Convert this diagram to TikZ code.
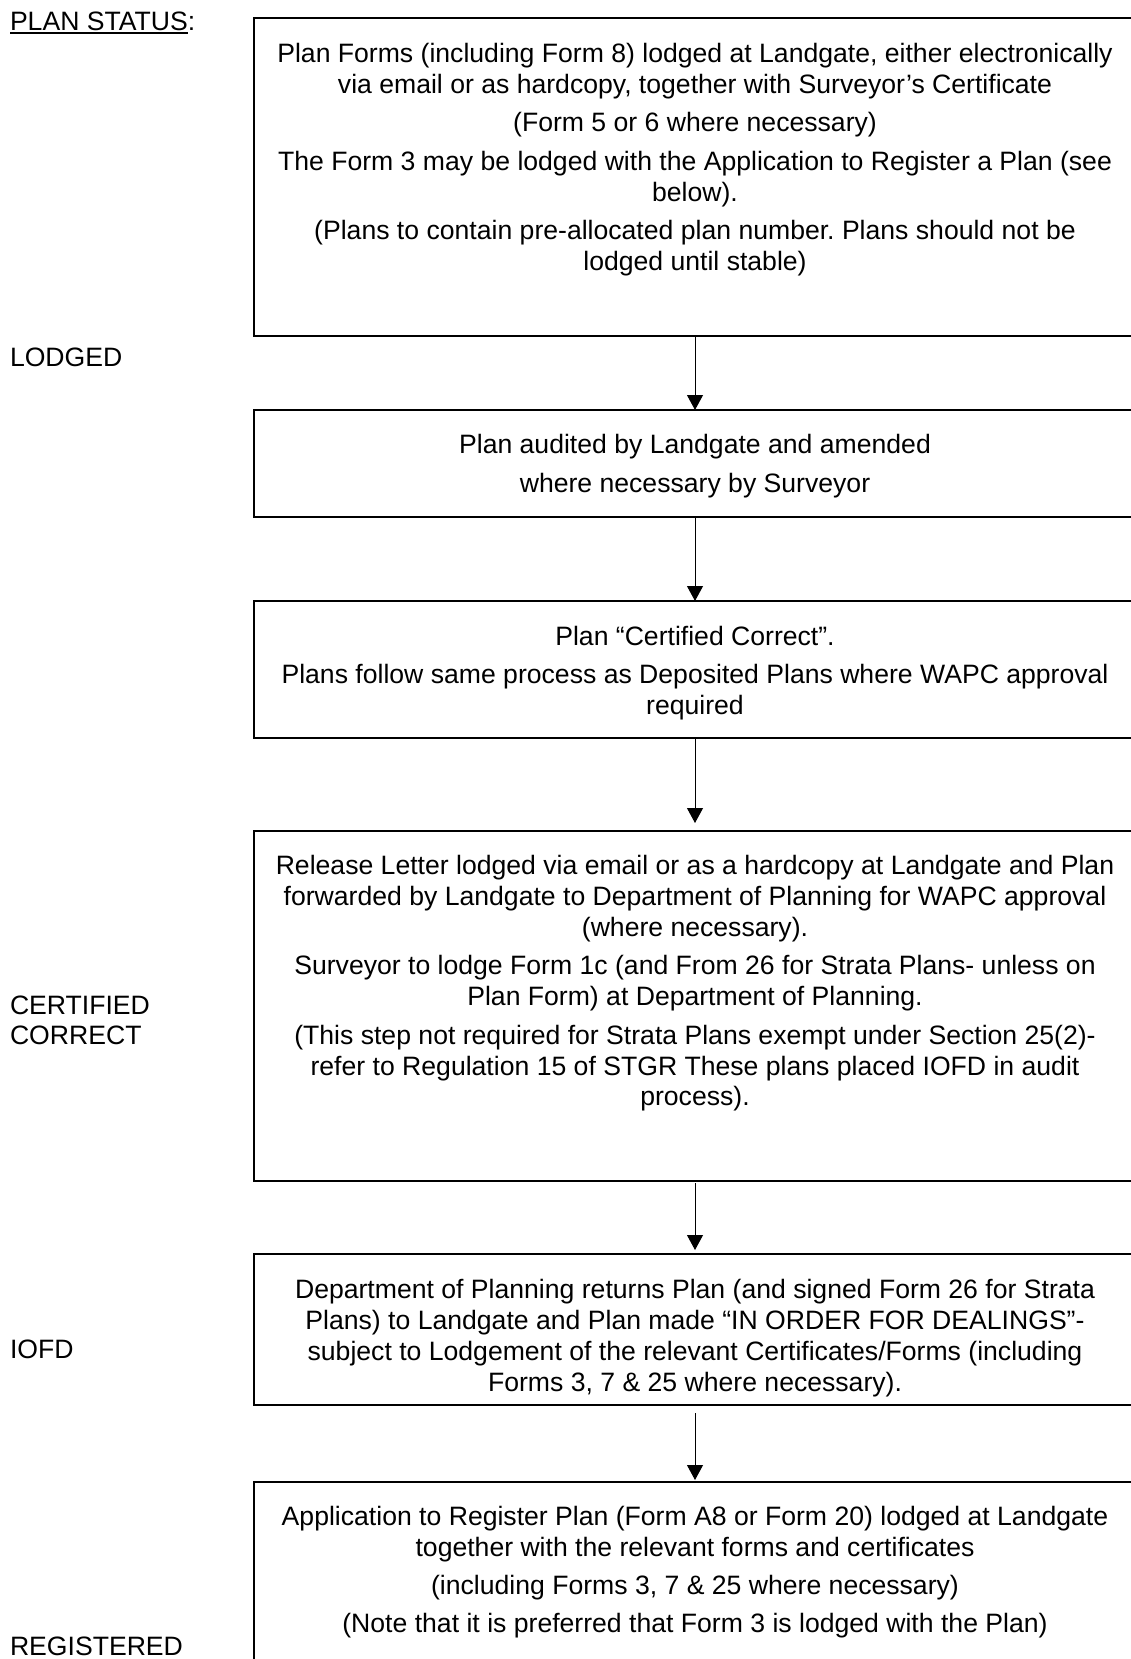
\documentclass[tikz,border=0pt]{standalone}
\usepackage{fontspec}
\setmainfont{Liberation Sans}
\usetikzlibrary{arrows.meta}
\frenchspacing
\tikzset{
  stepbox/.style={draw, line width=1.6pt, rectangle, inner sep=0pt, outer sep=0pt, minimum width=882pt},
  boxtext/.style={anchor=base, inner sep=0pt, outer sep=0pt},
  status/.style={anchor=base west, inner sep=0pt, outer sep=0pt},
  flow/.style={line width=1pt, -{Triangle[length=15pt,width=16pt]}},
}
\newcommand\bt[1]{\parbox[t]{890pt}{\centering\frenchspacing\fontsize{26.6pt}{30.9pt}\selectfont #1}}
\begin{document}
\begin{tikzpicture}[x=1pt, y=-1pt, font=\fontsize{26.6pt}{30pt}\selectfont]
\useasboundingbox (0,0) rectangle (1131,1659);
% boxes
\node[stepbox, minimum height=318pt] (b1) at (695,177) {};
\node[stepbox, minimum height=107pt] (b2) at (695,463.5) {};
\node[stepbox, minimum height=137pt] (b3) at (695,669.5) {};
\node[stepbox, minimum height=350pt] (b4) at (695,1006) {};
\node[stepbox, minimum height=151pt] (b5) at (695,1329.5) {};
\node[stepbox, minimum height=240pt] (b6) at (695,1602) {};
% texts
\node[boxtext] (t1) at (695,62.6) {\bt{Plan Forms (including Form 8) lodged at Landgate, either electronically\\ via email or as hardcopy, together with Surveyor’s Certificate\\[7.6pt] (Form 5 or 6 where necessary)\\[7.6pt] The Form 3 may be lodged with the Application to Register a Plan (see\\ below).\\[7.6pt] (Plans to contain pre-allocated plan number. Plans should not be\\ lodged until stable)}};
\node[boxtext] (t2) at (695,453.3) {\bt{Plan audited by Landgate and amended\\[8.3pt] where necessary by Surveyor}};
\node[boxtext] (t3) at (695,645.4) {\bt{Plan “Certified Correct”.\\[7.6pt] Plans follow same process as Deposited Plans where WAPC approval\\ required}};
\node[boxtext] (t4) at (695,874.4) {\bt{Release Letter lodged via email or as a hardcopy at Landgate and Plan\\ forwarded by Landgate to Department of Planning for WAPC approval\\ (where necessary).\\[7.6pt] Surveyor to lodge Form 1c (and From 26 for Strata Plans- unless on\\ Plan Form) at Department of Planning.\\[7.6pt] (This step not required for Strata Plans exempt under Section 25(2)-\\ refer to Regulation 15 of STGR These plans placed IOFD in audit\\ process).}};
\node[boxtext] (t5) at (695,1298.4) {\bt{Department of Planning returns Plan (and signed Form 26 for Strata\\ Plans) to Landgate and Plan made “IN ORDER FOR DEALINGS”-\\ subject to Lodgement of the relevant Certificates/Forms (including\\ Forms 3, 7 \& 25 where necessary).}};
\node[boxtext] (t6) at (695,1525.3) {\bt{Application to Register Plan (Form A8 or Form 20) lodged at Landgate\\ together with the relevant forms and certificates\\[7.6pt] (including Forms 3, 7 \& 25 where necessary)\\[7.2pt] (Note that it is preferred that Form 3 is lodged with the Plan)}};
% status labels
\node[status] (ps) at (10,30.3) {PLAN STATUS:};
\draw[line width=1.8pt] ([yshift=-3pt]ps.base west) -- ([yshift=-3pt,xshift=-7.4pt]ps.base east);
\node[status] (s1) at (10,366) {LODGED};
\node[status, align=left] (s2) at (10,1044.4) {CERTIFIED\\CORRECT};
\node[status] (s3) at (10,1358.4) {IOFD};
\node[status] (s4) at (10,1655) {REGISTERED};
% arrows
\draw[flow] (b1.south) -- (b2.north);
\draw[flow] (b2.south) -- (b3.north);
\draw[flow] (b3.south) -- ([yshift=8pt]b4.north);
\draw[flow] ([yshift=-2pt]b4.south) -- ([yshift=4pt]b5.north);
\draw[flow] ([yshift=-8pt]b5.south) -- ([yshift=2pt]b6.north);
\end{tikzpicture}
\end{document}
